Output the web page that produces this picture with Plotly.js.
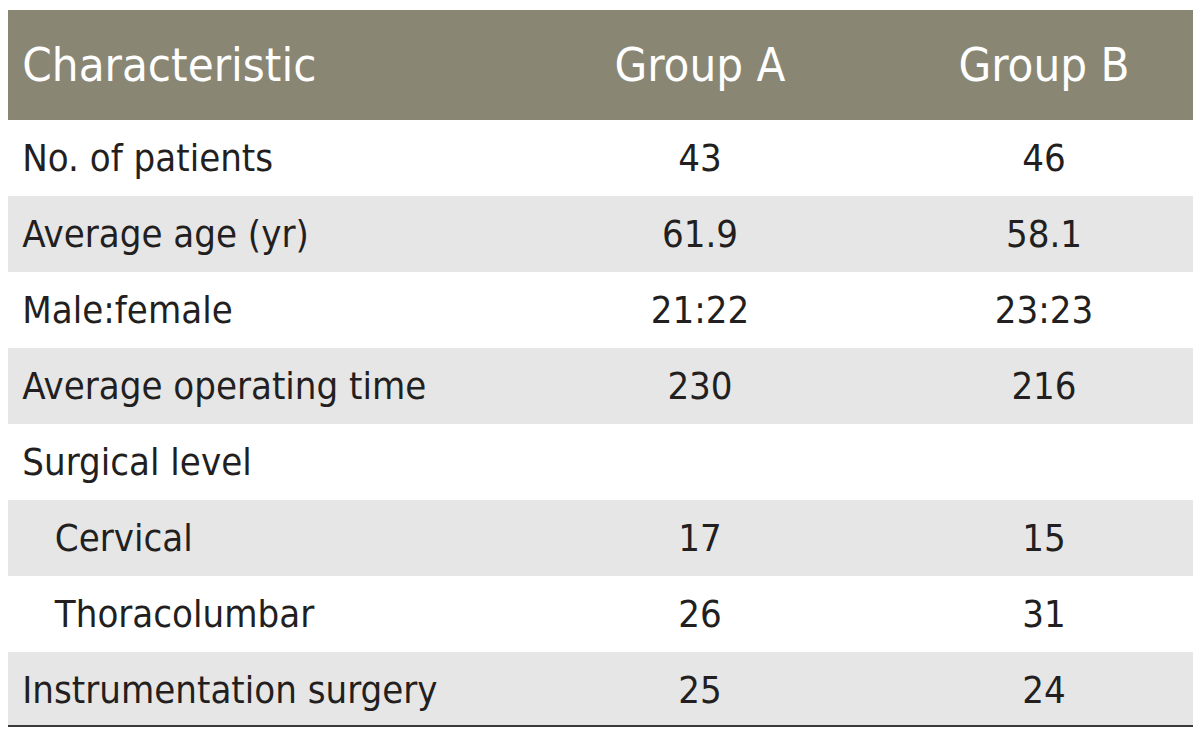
<!DOCTYPE html>
<html>
<head>
<meta charset="utf-8">
<script src="https://cdn.plot.ly/plotly-3.0.1.min.js"></script>
<style>html,body{margin:0;padding:0;background:#fff;}#chart{width:1200px;height:738px;}</style>
</head>
<body>
<div id="chart"></div>
<script>
const headers = ["Characteristic", "Group A", "Group B"];
const characteristics = ["No. of patients", "Average age (yr)", "Male:female", "Average operating time", "Surgical level", "\u00a0\u00a0\u00a0Cervical", "\u00a0\u00a0\u00a0Thoracolumbar", "Instrumentation surgery"];
const groupA = ["43", "61.9", "21:22", "230", "", "17", "26", "25"];
const groupB = ["46", "58.1", "23:23", "216", "", "15", "31", "24"];

const FONT = '"Liberation Sans Narrow", "DejaVu Sans Condensed", "Liberation Sans", sans-serif';
const stripe = characteristics.map((_, i) => i % 2 === 0 ? '#ffffff' : '#e6e6e6');

// Plotly table cells are top-aligned: a taller invisible strut (non-breaking space in a
// bigger font) lowers the baseline so the visible text sits centred in its row.
// Trailing <br> disables Plotly's automatic word wrapping.
function wrap(t, size, strut, left) {
  if (t === '') return '';
  const s = '<span style="font-size:' + strut + 'px">\u00a0</span>';
  const pre = left ? '<span style="font-size:22px">\u00a0</span>' : s;
  return pre + '<span style="font-size:' + size + 'px">' + t + '</span>' + s + '<br>';
}

const trace = {
  type: 'table',
  domain: {x: [8/1200, 1193/1200], y: [1 - 726/738, 1 - 10/738]},
  columnwidth: [497, 390, 298],
  header: {
    values: headers.map((h, i) => wrap(h, 47, 68, i === 0)),
    align: ['left', 'center', 'center'],
    height: 110,
    fill: {color: '#898674'},
    line: {color: '#898674', width: 0},
    font: {family: FONT, size: 47, color: '#ffffff'}
  },
  cells: {
    values: [characteristics.map(t => wrap(t, 38, 46, true)), groupA.map(t => wrap(t, 38, 46, false)), groupB.map(t => wrap(t, 38, 46, false))],
    align: ['left', 'center', 'center'],
    height: 76,
    fill: {color: [stripe, stripe, stripe]},
    line: {color: [stripe, stripe, stripe], width: 0},
    font: {family: FONT, size: 38, color: '#231f20'}
  }
};

const layout = {
  width: 1200, height: 738,
  margin: {l: 0, r: 0, t: 0, b: 0},
  paper_bgcolor: '#ffffff',
  shapes: [{type: 'line', xref: 'paper', yref: 'paper', x0: 8/1200, x1: 1193/1200, y0: 1 - 726/738, y1: 1 - 726/738, line: {color: '#3a3a3a', width: 2}}]
};

Plotly.newPlot('chart', [trace], layout, {staticPlot: true, displayModeBar: false});
</script>
</body>
</html>
